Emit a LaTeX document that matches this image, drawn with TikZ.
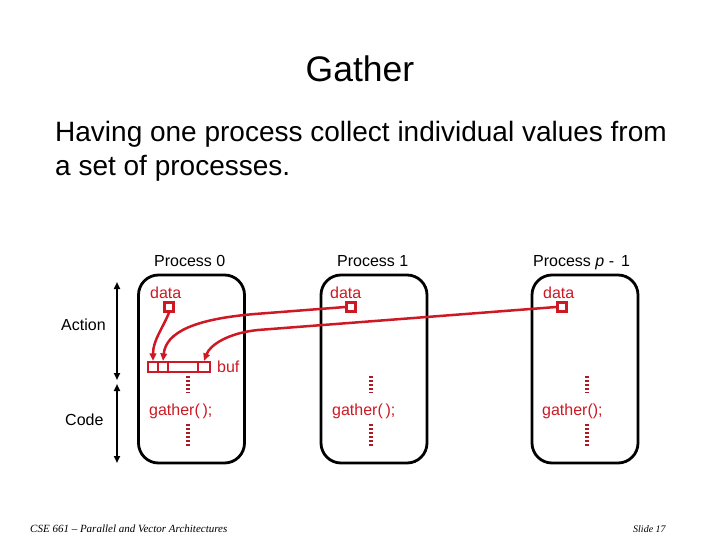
\documentclass[tikz,border=0pt]{standalone}
\usepackage{fontspec}
\setmainfont{Liberation Sans}
\newfontfamily\footfont{Liberation Serif}
\usetikzlibrary{arrows.meta}
\definecolor{myred}{RGB}{205,25,35}
\definecolor{dotred}{RGB}{175,25,35}
\begin{document}
\begin{tikzpicture}[x=1pt,y=-1pt,
  txt/.style={inner sep=0pt,anchor=base west,font=\fontsize{16}{19}\selectfont},
  rtxt/.style={txt,text=myred},
  procbox/.style={draw=black,line width=2.8pt,rounded corners=20pt,minimum width=106pt,minimum height=188pt,inner sep=0pt},
  datasq/.style={draw=myred,line width=2.2pt,minimum width=9pt,minimum height=9pt,inner sep=0pt},
  cell/.style={draw=myred,line width=2.2pt,minimum height=10pt,inner sep=0pt},
  redarrow/.style={draw=myred,line width=2.5pt,-{Triangle[length=7.5pt,width=6.5pt]}},
  dots/.style={draw=dotred,line width=3.5pt,dash pattern=on 2.4pt off 1.6pt},
  dblarrow/.style={draw=black,line width=1.8pt,{Triangle[length=7pt,width=6pt]}-{Triangle[length=7pt,width=6pt]}}
]
\useasboundingbox (0,0) rectangle (720,540);
% title and text
\node[inner sep=0pt,anchor=base] (title) at (360,82) {\fontsize{35.5}{42}\selectfont Gather};
\node[inner sep=0pt,anchor=base west] (sub1) at (55,142) {\fontsize{28}{34}\selectfont Having one process collect individual values from};
\node[inner sep=0pt,anchor=base west] (sub2) at (55,176) {\fontsize{28}{34}\selectfont a set of processes.};
% process boxes
\node[procbox] (b0) at (191.5,369) {};
\node[procbox] (b1) at (374,369) {};
\node[procbox] (b2) at (585,369) {};
% labels
\node[txt] (l0) at (154,266) {Process 0};
\node[txt] (l1) at (337,266) {Process 1};
\node[txt] (l2) at (533,266) {Process \textit{p} -\,\ 1};
\node[rtxt] (t0) at (150,298) {data};
\node[rtxt] (t1) at (330,298) {data};
\node[rtxt] (t2) at (543,298) {data};
\node[rtxt] (g0) at (149,415) {gather(\,);};
\node[rtxt] (g1) at (332,415) {gather(\,);};
\node[rtxt] (g2) at (542,415) {gather();};
\node[rtxt] (buf) at (217,372) {buf};
\node[txt] (act) at (61,330) {Action};
\node[txt] (code) at (65,425) {Code};
% data squares
\node[datasq] (d0) at (169,307) {};
\node[datasq] (d1) at (351,307) {};
\node[datasq] (d2) at (562,307) {};
% buffer cells
\node[cell,minimum width=10pt] (c1) at (153,367) {};
\node[cell,minimum width=10pt] (c2) at (163,367) {};
\node[cell,minimum width=30pt] (c3) at (183,367) {};
\node[cell,minimum width=12pt] (c4) at (204,367) {};
% arrows
\draw[redarrow] (d0.south) .. controls (163,328) and (153,340) .. (c1.north);
\draw[redarrow] (d1.west) -- (255,314) .. controls (195,319) and (166,332) .. (c2.north);
\draw[redarrow] (d2.west) -- (258,330) .. controls (228,333) and (210,345) .. (c4.north);
% dotted lines
\draw[dots] (188,376) -- (188,393);
\draw[dots] (188,424) -- (188,446);
\draw[dots] (371,376) -- (371,393);
\draw[dots] (371,424) -- (371,446);
\draw[dots] (587,376) -- (587,393);
\draw[dots] (587,424) -- (587,446);
% left arrows
\coordinate (a1) at (117,282);
\coordinate (a2) at (117,380);
\coordinate (a3) at (117,384);
\coordinate (a4) at (117,463);
\draw[dblarrow] (a1) -- (a2);
\draw[dblarrow] (a3) -- (a4);
% footer
\node[inner sep=0pt,anchor=base west] (foot) at (30,532) {\footfont\itshape\fontsize{11}{13}\selectfont CSE 661 – Parallel and Vector Architectures};
\node[inner sep=0pt,anchor=base west] (slide) at (633,532) {\footfont\itshape\fontsize{10}{12}\selectfont Slide 17};
\end{tikzpicture}
\end{document}
